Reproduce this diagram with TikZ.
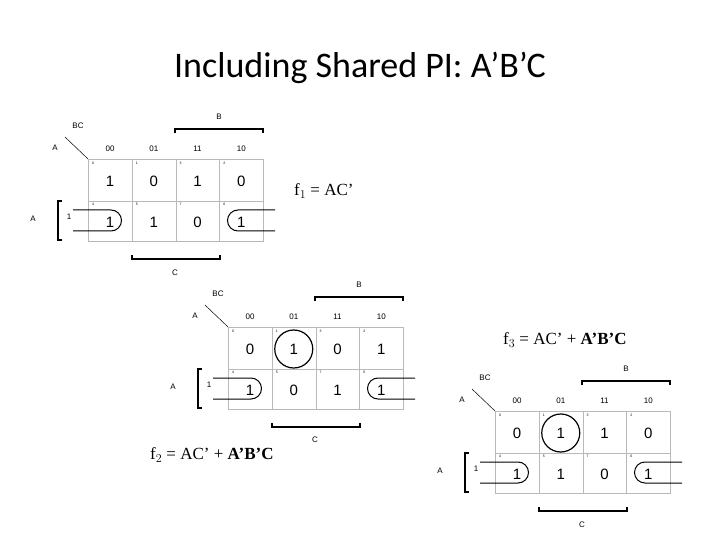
\documentclass[tikz,border=0pt]{standalone}
\usepackage{fontspec}
\setmainfont{Liberation Serif}
\newfontfamily\kfont{Liberation Sans}
\newfontfamily\tfont{Carlito}
\tikzset{
  grid/.style={draw=gray!55, line width=0.8pt},
  brk/.style={draw=black, line width=1.6pt},
  loopl/.style={draw=black, line width=1pt},
  val/.style={font=\kfont\fontsize{15}{15}\selectfont, inner sep=0pt},
  hdr/.style={font=\kfont\fontsize{8}{8}\selectfont, inner sep=0pt},
  idx/.style={font=\kfont\fontsize{3.5}{3.5}\selectfont, inner sep=0pt},
  eq/.style={font=\fontsize{17}{17}\selectfont, inner sep=0pt, anchor=west},
}
\newcommand{\kmap}[5]{%
\begin{scope}[shift={(#2,#3)}]
  \draw[grid] (88,159) rectangle (263,241);
  \draw[grid] (88,201) -- (263,201);
  \foreach \xx in {132,176,219} \draw[grid] (\xx,159) -- (\xx,241);
  \foreach \h [count=\i from 0] in {00,01,11,10}
    \node[hdr] (#1-h\i) at (110+43.75*\i,149) {\h};
  \node[hdr] (#1-bc) at (78,126) {BC};
  \node[hdr] (#1-a) at (55,148) {A};
  \coordinate (#1-d1) at (65,137); \coordinate (#1-d2) at (88,159);
  \draw[line width=0.5pt] (#1-d1) -- (#1-d2);
  \node[hdr] (#1-b) at (219,117) {B};
  \coordinate (#1-b1) at (175,133); \coordinate (#1-b2) at (263,133);
  \draw[brk] (#1-b1) |- ++(0,-4) -| (#1-b2);
  \node[hdr] (#1-al) at (33,219) {A};
  \coordinate (#1-a1) at (62,201); \coordinate (#1-a2) at (62,240);
  \draw[brk] (#1-a1) -| ++(-4,0) |- (#1-a2);
  \node[hdr] (#1-one) at (69,217) {1};
  \coordinate (#1-c1) at (132,255); \coordinate (#1-c2) at (220,255);
  \draw[brk] (#1-c1) |- ++(0,4) -| (#1-c2);
  \node[hdr] (#1-c) at #5 {C};
  \foreach \v/\k [count=\i from 0] in {#4} {
    \pgfmathtruncatemacro\cc{mod(\i,4)}
    \pgfmathtruncatemacro\rr{int(\i/4)}
    \node[val] (#1-v\i) at (110+43.75*\cc,181+41*\rr) {\v};
    \node[idx] (#1-i\i) at (93+43.75*\cc,163+41*\rr) {\k};
  }
  \draw[loopl] (73,210) -- (111,210) arc[start angle=-90,end angle=90,radius=10.5] -- (73,231);
  \draw[loopl] (275,210) -- (238,210) arc[start angle=-90,end angle=-270,radius=10.5] -- (275,231);
\end{scope}}
\begin{document}
\begin{tikzpicture}[x=1pt,y=-1pt]
\useasboundingbox[fill=white] (0,0) rectangle (720,540);
\node[font=\tfont\fontsize{36}{36}\selectfont] (title) at (360,68) {Including Shared PI: A’B’C};
\kmap{m1}{0}{0}{1/0,0/1,1/3,0/2,1/4,1/5,0/7,1/6}{(175,273)}
\kmap{m2}{140}{168}{0/0,1/1,0/3,1/2,1/4,0/5,1/7,1/6}{(175,272)}
\draw[line width=1.2pt] (m2-v1) circle (19);
\kmap{m3}{407}{252}{0/0,1/1,1/3,0/2,1/4,1/5,0/7,1/6}{(175,273)}
\draw[line width=1.2pt] (m3-v1) circle (19);
\node[eq] (f1) at (294,191) {f$_1$ = AC’};
\node[eq] (f3) at (503,340) {f$_3$ = AC’ + \textbf{A’B’C}};
\node[eq] (f2) at (150,455) {f$_2$ = AC’ + \textbf{A’B’C}};
\end{tikzpicture}
\end{document}
